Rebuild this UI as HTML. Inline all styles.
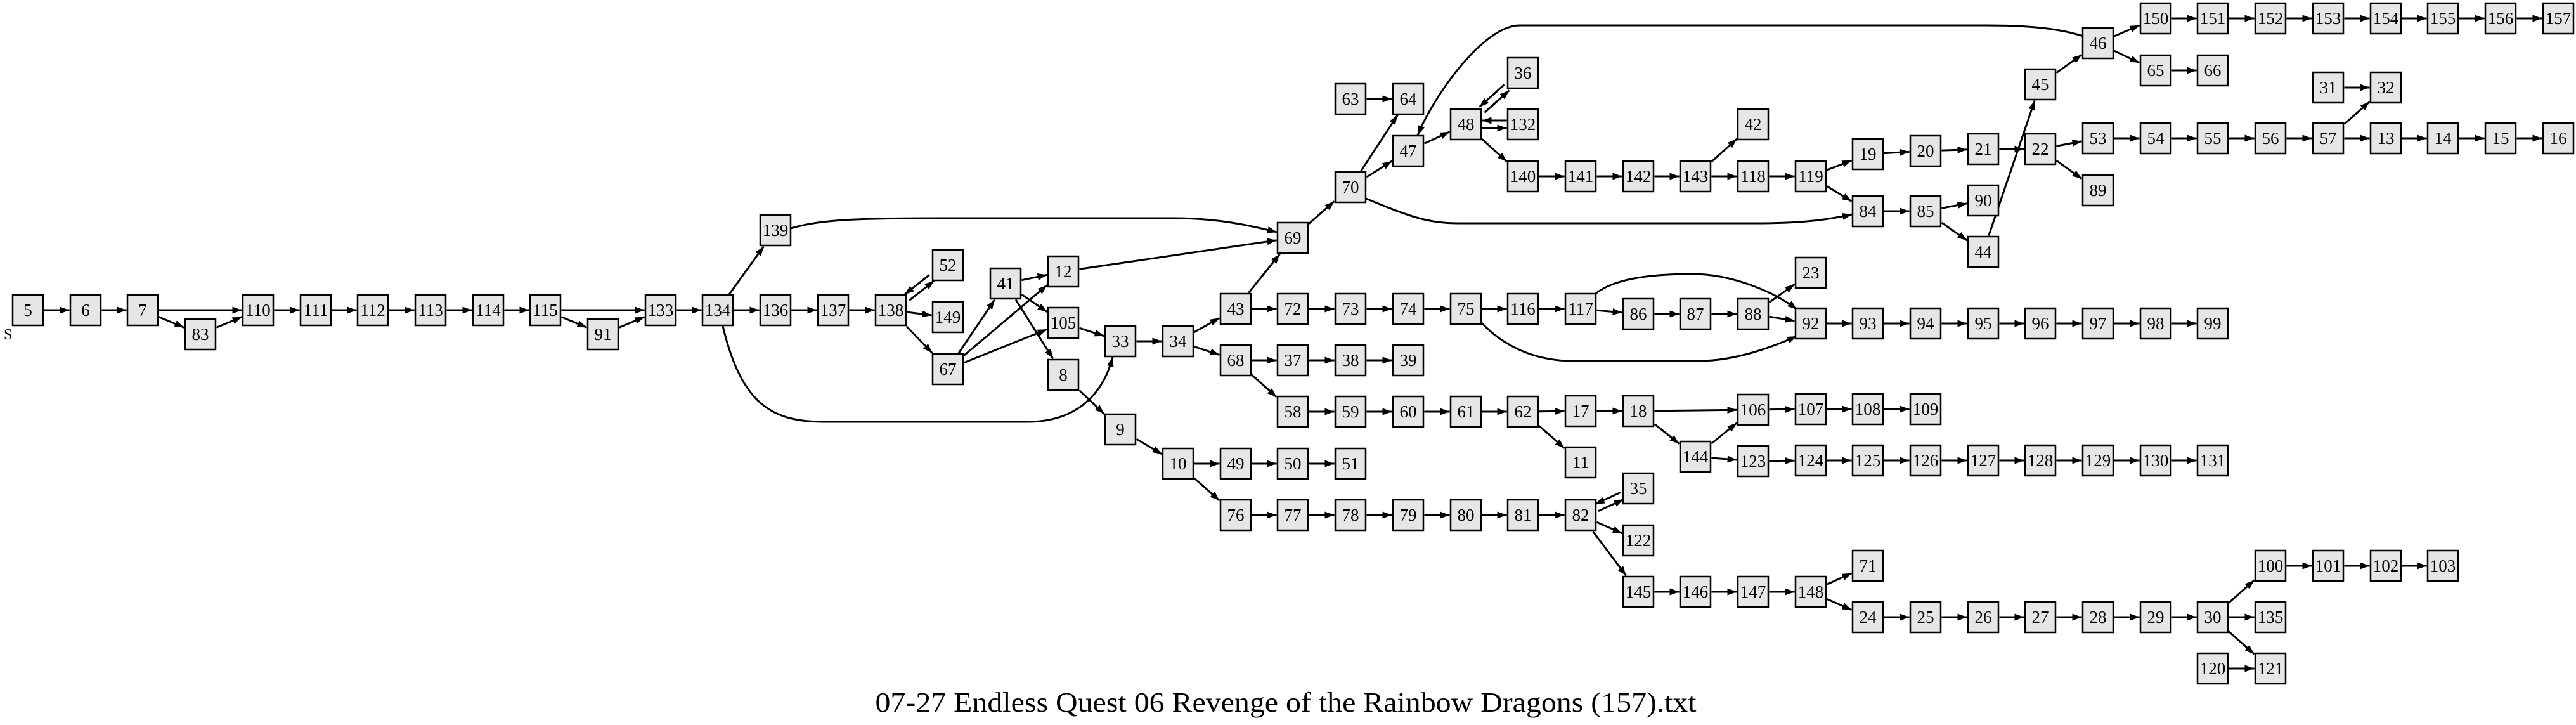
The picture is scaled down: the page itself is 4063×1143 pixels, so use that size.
<!DOCTYPE html>
<html><head><meta charset="utf-8"><style>
html,body{margin:0;padding:0;background:#fff}
svg{display:block}
.n rect{x:-24px;y:-24px;width:48px;height:48px;fill:#e6e6e6;stroke:#000;stroke-width:2.5}
.n text{font-family:"Liberation Serif",serif;font-size:27px;text-anchor:middle;fill:#000}
.e{stroke:#000;stroke-width:3;fill:none}
</style></head><body>
<svg id="s" width="4063" height="1143" viewBox="0 0 4063 1143" xmlns="http://www.w3.org/2000/svg">
<defs><marker id="a" markerUnits="userSpaceOnUse" markerWidth="15" markerHeight="11" refX="15" refY="5.5" orient="auto"><path d="M0,0 L15,5.5 L0,11 z" fill="#000"/></marker></defs>
<g id="edges">
<path class="e" marker-end="url(#a)" d="M1140,514 C1170,640 1220,665 1300,665 L1620,665 C1700,665 1740,620 1755,563"/>
<path class="e" marker-end="url(#a)" d="M1247,360 C1290,348 1330,344 1480,344 L1850,344 C1920,344 1970,355 2014,366"/>
<path class="e" marker-end="url(#a)" d="M2152,312 C2220,340 2250,352 2300,352 L2770,352 C2850,352 2890,345 2921,338"/>
<path class="e" marker-end="url(#a)" d="M2512,467 C2540,440 2600,432 2670,432 C2730,432 2800,460 2834,488"/>
<path class="e" marker-end="url(#a)" d="M2335,507 C2370,545 2420,569 2480,569 L2680,569 C2740,569 2800,545 2834,530"/>
<path class="e" marker-end="url(#a)" d="M3289,58 C3250,45 3200,40 3135,40 L2397,40 C2340,40 2262,150 2236,213"/>
</g>
<text x="6" y="535" font-family="Liberation Serif, serif" font-size="24">S</text>
<text x="2028" y="1122" font-family="Liberation Serif, serif" font-size="44" text-anchor="middle" textLength="1295" lengthAdjust="spacingAndGlyphs">07-27 Endless Quest 06 Revenge of the Rainbow Dragons (157).txt</text>
<g id="nodes">
<g class="n" id="n5" transform="translate(44,489)"><rect/><text y="9">5</text></g>
<g class="n" id="n6" transform="translate(135,489)"><rect/><text y="9">6</text></g>
<g class="n" id="n7" transform="translate(225,489)"><rect/><text y="9">7</text></g>
<g class="n" id="n83" transform="translate(316,527)"><rect/><text y="9">83</text></g>
<g class="n" id="n110" transform="translate(407,489)"><rect/><text y="9">110</text></g>
<g class="n" id="n111" transform="translate(498,489)"><rect/><text y="9">111</text></g>
<g class="n" id="n112" transform="translate(588,489)"><rect/><text y="9">112</text></g>
<g class="n" id="n113" transform="translate(679,489)"><rect/><text y="9">113</text></g>
<g class="n" id="n114" transform="translate(770,489)"><rect/><text y="9">114</text></g>
<g class="n" id="n115" transform="translate(860,489)"><rect/><text y="9">115</text></g>
<g class="n" id="n91" transform="translate(951,527)"><rect/><text y="9">91</text></g>
<g class="n" id="n133" transform="translate(1042,489)"><rect/><text y="9">133</text></g>
<g class="n" id="n134" transform="translate(1132,489)"><rect/><text y="9">134</text></g>
<g class="n" id="n136" transform="translate(1223,489)"><rect/><text y="9">136</text></g>
<g class="n" id="n139" transform="translate(1223,363)"><rect/><text y="9">139</text></g>
<g class="n" id="n137" transform="translate(1314,489)"><rect/><text y="9">137</text></g>
<g class="n" id="n138" transform="translate(1405,489)"><rect/><text y="9">138</text></g>
<g class="n" id="n52" transform="translate(1495,418)"><rect/><text y="9">52</text></g>
<g class="n" id="n149" transform="translate(1495,500)"><rect/><text y="9">149</text></g>
<g class="n" id="n67" transform="translate(1495,582)"><rect/><text y="9">67</text></g>
<g class="n" id="n41" transform="translate(1586,447)"><rect/><text y="9">41</text></g>
<g class="n" id="n12" transform="translate(1677,428)"><rect/><text y="9">12</text></g>
<g class="n" id="n105" transform="translate(1677,509)"><rect/><text y="9">105</text></g>
<g class="n" id="n8" transform="translate(1677,591)"><rect/><text y="9">8</text></g>
<g class="n" id="n33" transform="translate(1767,538)"><rect/><text y="9">33</text></g>
<g class="n" id="n9" transform="translate(1767,677)"><rect/><text y="9">9</text></g>
<g class="n" id="n34" transform="translate(1858,538)"><rect/><text y="9">34</text></g>
<g class="n" id="n10" transform="translate(1858,731)"><rect/><text y="9">10</text></g>
<g class="n" id="n43" transform="translate(1949,487)"><rect/><text y="9">43</text></g>
<g class="n" id="n68" transform="translate(1949,568)"><rect/><text y="9">68</text></g>
<g class="n" id="n49" transform="translate(1949,731)"><rect/><text y="9">49</text></g>
<g class="n" id="n76" transform="translate(1949,812)"><rect/><text y="9">76</text></g>
<g class="n" id="n69" transform="translate(2039,375)"><rect/><text y="9">69</text></g>
<g class="n" id="n72" transform="translate(2039,487)"><rect/><text y="9">72</text></g>
<g class="n" id="n37" transform="translate(2039,568)"><rect/><text y="9">37</text></g>
<g class="n" id="n58" transform="translate(2039,649)"><rect/><text y="9">58</text></g>
<g class="n" id="n50" transform="translate(2039,731)"><rect/><text y="9">50</text></g>
<g class="n" id="n77" transform="translate(2039,812)"><rect/><text y="9">77</text></g>
<g class="n" id="n70" transform="translate(2130,295)"><rect/><text y="9">70</text></g>
<g class="n" id="n63" transform="translate(2130,156)"><rect/><text y="9">63</text></g>
<g class="n" id="n73" transform="translate(2130,487)"><rect/><text y="9">73</text></g>
<g class="n" id="n38" transform="translate(2130,568)"><rect/><text y="9">38</text></g>
<g class="n" id="n59" transform="translate(2130,649)"><rect/><text y="9">59</text></g>
<g class="n" id="n51" transform="translate(2130,731)"><rect/><text y="9">51</text></g>
<g class="n" id="n78" transform="translate(2130,812)"><rect/><text y="9">78</text></g>
<g class="n" id="n64" transform="translate(2221,156)"><rect/><text y="9">64</text></g>
<g class="n" id="n47" transform="translate(2221,238)"><rect/><text y="9">47</text></g>
<g class="n" id="n74" transform="translate(2221,487)"><rect/><text y="9">74</text></g>
<g class="n" id="n39" transform="translate(2221,568)"><rect/><text y="9">39</text></g>
<g class="n" id="n60" transform="translate(2221,649)"><rect/><text y="9">60</text></g>
<g class="n" id="n79" transform="translate(2221,812)"><rect/><text y="9">79</text></g>
<g class="n" id="n48" transform="translate(2312,196)"><rect/><text y="9">48</text></g>
<g class="n" id="n75" transform="translate(2312,487)"><rect/><text y="9">75</text></g>
<g class="n" id="n61" transform="translate(2312,649)"><rect/><text y="9">61</text></g>
<g class="n" id="n80" transform="translate(2312,812)"><rect/><text y="9">80</text></g>
<g class="n" id="n36" transform="translate(2402,115)"><rect/><text y="9">36</text></g>
<g class="n" id="n132" transform="translate(2402,196)"><rect/><text y="9">132</text></g>
<g class="n" id="n140" transform="translate(2402,278)"><rect/><text y="9">140</text></g>
<g class="n" id="n116" transform="translate(2402,487)"><rect/><text y="9">116</text></g>
<g class="n" id="n62" transform="translate(2402,649)"><rect/><text y="9">62</text></g>
<g class="n" id="n81" transform="translate(2402,812)"><rect/><text y="9">81</text></g>
<g class="n" id="n141" transform="translate(2493,278)"><rect/><text y="9">141</text></g>
<g class="n" id="n117" transform="translate(2493,487)"><rect/><text y="9">117</text></g>
<g class="n" id="n17" transform="translate(2493,648)"><rect/><text y="9">17</text></g>
<g class="n" id="n11" transform="translate(2493,729)"><rect/><text y="9">11</text></g>
<g class="n" id="n82" transform="translate(2493,812)"><rect/><text y="9">82</text></g>
<g class="n" id="n142" transform="translate(2584,278)"><rect/><text y="9">142</text></g>
<g class="n" id="n86" transform="translate(2584,495)"><rect/><text y="9">86</text></g>
<g class="n" id="n18" transform="translate(2584,648)"><rect/><text y="9">18</text></g>
<g class="n" id="n35" transform="translate(2584,770)"><rect/><text y="9">35</text></g>
<g class="n" id="n122" transform="translate(2584,852)"><rect/><text y="9">122</text></g>
<g class="n" id="n145" transform="translate(2584,933)"><rect/><text y="9">145</text></g>
<g class="n" id="n143" transform="translate(2674,278)"><rect/><text y="9">143</text></g>
<g class="n" id="n87" transform="translate(2674,495)"><rect/><text y="9">87</text></g>
<g class="n" id="n144" transform="translate(2674,720)"><rect/><text y="9">144</text></g>
<g class="n" id="n146" transform="translate(2674,933)"><rect/><text y="9">146</text></g>
<g class="n" id="n42" transform="translate(2765,196)"><rect/><text y="9">42</text></g>
<g class="n" id="n118" transform="translate(2765,278)"><rect/><text y="9">118</text></g>
<g class="n" id="n88" transform="translate(2765,495)"><rect/><text y="9">88</text></g>
<g class="n" id="n106" transform="translate(2765,646)"><rect/><text y="9">106</text></g>
<g class="n" id="n123" transform="translate(2765,727)"><rect/><text y="9">123</text></g>
<g class="n" id="n147" transform="translate(2765,933)"><rect/><text y="9">147</text></g>
<g class="n" id="n119" transform="translate(2856,278)"><rect/><text y="9">119</text></g>
<g class="n" id="n23" transform="translate(2856,430)"><rect/><text y="9">23</text></g>
<g class="n" id="n92" transform="translate(2856,510)"><rect/><text y="9">92</text></g>
<g class="n" id="n107" transform="translate(2856,645)"><rect/><text y="9">107</text></g>
<g class="n" id="n124" transform="translate(2856,726)"><rect/><text y="9">124</text></g>
<g class="n" id="n148" transform="translate(2856,933)"><rect/><text y="9">148</text></g>
<g class="n" id="n19" transform="translate(2946,243)"><rect/><text y="9">19</text></g>
<g class="n" id="n84" transform="translate(2946,333)"><rect/><text y="9">84</text></g>
<g class="n" id="n93" transform="translate(2946,510)"><rect/><text y="9">93</text></g>
<g class="n" id="n108" transform="translate(2946,645)"><rect/><text y="9">108</text></g>
<g class="n" id="n125" transform="translate(2946,726)"><rect/><text y="9">125</text></g>
<g class="n" id="n71" transform="translate(2946,892)"><rect/><text y="9">71</text></g>
<g class="n" id="n24" transform="translate(2946,973)"><rect/><text y="9">24</text></g>
<g class="n" id="n20" transform="translate(3037,238)"><rect/><text y="9">20</text></g>
<g class="n" id="n85" transform="translate(3037,333)"><rect/><text y="9">85</text></g>
<g class="n" id="n94" transform="translate(3037,510)"><rect/><text y="9">94</text></g>
<g class="n" id="n109" transform="translate(3037,645)"><rect/><text y="9">109</text></g>
<g class="n" id="n126" transform="translate(3037,726)"><rect/><text y="9">126</text></g>
<g class="n" id="n25" transform="translate(3037,973)"><rect/><text y="9">25</text></g>
<g class="n" id="n21" transform="translate(3128,235)"><rect/><text y="9">21</text></g>
<g class="n" id="n90" transform="translate(3128,316)"><rect/><text y="9">90</text></g>
<g class="n" id="n44" transform="translate(3128,397)"><rect/><text y="9">44</text></g>
<g class="n" id="n95" transform="translate(3128,510)"><rect/><text y="9">95</text></g>
<g class="n" id="n127" transform="translate(3128,726)"><rect/><text y="9">127</text></g>
<g class="n" id="n26" transform="translate(3128,973)"><rect/><text y="9">26</text></g>
<g class="n" id="n45" transform="translate(3218,133)"><rect/><text y="9">45</text></g>
<g class="n" id="n22" transform="translate(3218,235)"><rect/><text y="9">22</text></g>
<g class="n" id="n96" transform="translate(3218,510)"><rect/><text y="9">96</text></g>
<g class="n" id="n128" transform="translate(3218,726)"><rect/><text y="9">128</text></g>
<g class="n" id="n27" transform="translate(3218,973)"><rect/><text y="9">27</text></g>
<g class="n" id="n46" transform="translate(3309,68)"><rect/><text y="9">46</text></g>
<g class="n" id="n53" transform="translate(3309,218)"><rect/><text y="9">53</text></g>
<g class="n" id="n89" transform="translate(3309,300)"><rect/><text y="9">89</text></g>
<g class="n" id="n97" transform="translate(3309,510)"><rect/><text y="9">97</text></g>
<g class="n" id="n129" transform="translate(3309,726)"><rect/><text y="9">129</text></g>
<g class="n" id="n28" transform="translate(3309,973)"><rect/><text y="9">28</text></g>
<g class="n" id="n150" transform="translate(3400,29)"><rect/><text y="9">150</text></g>
<g class="n" id="n65" transform="translate(3400,111)"><rect/><text y="9">65</text></g>
<g class="n" id="n54" transform="translate(3400,218)"><rect/><text y="9">54</text></g>
<g class="n" id="n98" transform="translate(3400,510)"><rect/><text y="9">98</text></g>
<g class="n" id="n130" transform="translate(3400,726)"><rect/><text y="9">130</text></g>
<g class="n" id="n29" transform="translate(3400,973)"><rect/><text y="9">29</text></g>
<g class="n" id="n151" transform="translate(3490,29)"><rect/><text y="9">151</text></g>
<g class="n" id="n66" transform="translate(3490,111)"><rect/><text y="9">66</text></g>
<g class="n" id="n55" transform="translate(3490,218)"><rect/><text y="9">55</text></g>
<g class="n" id="n99" transform="translate(3490,510)"><rect/><text y="9">99</text></g>
<g class="n" id="n131" transform="translate(3490,726)"><rect/><text y="9">131</text></g>
<g class="n" id="n30" transform="translate(3490,973)"><rect/><text y="9">30</text></g>
<g class="n" id="n120" transform="translate(3490,1054)"><rect/><text y="9">120</text></g>
<g class="n" id="n152" transform="translate(3581,29)"><rect/><text y="9">152</text></g>
<g class="n" id="n56" transform="translate(3581,218)"><rect/><text y="9">56</text></g>
<g class="n" id="n100" transform="translate(3581,892)"><rect/><text y="9">100</text></g>
<g class="n" id="n135" transform="translate(3581,973)"><rect/><text y="9">135</text></g>
<g class="n" id="n121" transform="translate(3581,1054)"><rect/><text y="9">121</text></g>
<g class="n" id="n153" transform="translate(3672,29)"><rect/><text y="9">153</text></g>
<g class="n" id="n31" transform="translate(3672,138)"><rect/><text y="9">31</text></g>
<g class="n" id="n57" transform="translate(3672,218)"><rect/><text y="9">57</text></g>
<g class="n" id="n101" transform="translate(3672,892)"><rect/><text y="9">101</text></g>
<g class="n" id="n154" transform="translate(3763,29)"><rect/><text y="9">154</text></g>
<g class="n" id="n32" transform="translate(3763,138)"><rect/><text y="9">32</text></g>
<g class="n" id="n13" transform="translate(3763,218)"><rect/><text y="9">13</text></g>
<g class="n" id="n102" transform="translate(3763,892)"><rect/><text y="9">102</text></g>
<g class="n" id="n155" transform="translate(3853,29)"><rect/><text y="9">155</text></g>
<g class="n" id="n14" transform="translate(3853,218)"><rect/><text y="9">14</text></g>
<g class="n" id="n103" transform="translate(3853,892)"><rect/><text y="9">103</text></g>
<g class="n" id="n156" transform="translate(3944,29)"><rect/><text y="9">156</text></g>
<g class="n" id="n15" transform="translate(3944,218)"><rect/><text y="9">15</text></g>
<g class="n" id="n157" transform="translate(4035,29)"><rect/><text y="9">157</text></g>
<g class="n" id="n16" transform="translate(4035,218)"><rect/><text y="9">16</text></g>
</g>
</svg>
<script>
(function(){
var E="5-6 6-7 7-110 7-83 83-110 110-111 111-112 112-113 113-114 114-115 115-133 115-91 91-133 133-134 134-136 134-139 136-137 137-138 138-52 52-138 138-149 138-67 67-41 67-12 67-105 41-12 41-105 41-8 12-69 105-33 8-9 33-34 9-10 34-43 34-68 43-69 43-72 72-73 73-74 74-75 75-116 116-117 117-86 86-87 87-88 88-23 88-92 92-93 93-94 94-95 95-96 96-97 97-98 98-99 68-37 37-38 38-39 68-58 58-59 59-60 60-61 61-62 62-17 62-11 17-18 18-106 18-144 144-106 144-123 106-107 107-108 108-109 123-124 124-125 125-126 126-127 127-128 128-129 129-130 130-131 10-49 49-50 50-51 10-76 76-77 77-78 78-79 79-80 80-81 81-82 82-35 35-82 82-122 82-145 145-146 146-147 147-148 148-71 148-24 24-25 25-26 26-27 27-28 28-29 29-30 30-100 30-135 30-121 120-121 100-101 101-102 102-103 69-70 70-64 63-64 70-47 47-48 48-36 36-48 48-132 132-48 48-140 140-141 141-142 142-143 143-42 143-118 118-119 119-19 119-84 19-20 20-21 21-22 22-53 22-89 84-85 85-90 85-44 44-45 45-46 46-150 46-65 65-66 150-151 151-152 152-153 153-154 154-155 155-156 156-157 53-54 54-55 55-56 56-57 57-32 31-32 57-13 13-14 14-15 15-16".split(" ");
var set={};E.forEach(function(e){set[e]=1;});
function pos(id){var g=document.getElementById("n"+id);var m=g.getAttribute("transform").match(/([\d.]+),([\d.]+)/);return [+m[1],+m[2]];}
function clip(c,d){var h=25.5;var t=Math.min(Math.abs(d[0])>0?h/Math.abs(d[0]):1e9,Math.abs(d[1])>0?h/Math.abs(d[1]):1e9);return [c[0]+d[0]*t,c[1]+d[1]*t];}
var G=document.getElementById("edges"),NS="http://www.w3.org/2000/svg";
E.forEach(function(e){var p=e.split("-"),a=pos(p[0]),b=pos(p[1]);
var dx=b[0]-a[0],dy=b[1]-a[1],L=Math.sqrt(dx*dx+dy*dy),ux=dx/L,uy=dy/L;
var off=0;if(set[p[1]+"-"+p[0]])off=6;
var ox=-uy*off,oy=ux*off;
var A=[a[0]+ox,a[1]+oy],B=[b[0]+ox,b[1]+oy];
var s=clip(A,[ux,uy]),t=clip(B,[-ux,-uy]);
var l=document.createElementNS(NS,"line");
l.setAttribute("x1",s[0]);l.setAttribute("y1",s[1]);l.setAttribute("x2",t[0]);l.setAttribute("y2",t[1]);
l.setAttribute("class","e");l.setAttribute("marker-end","url(#a)");G.appendChild(l);});
})();
</script>
</body></html>
